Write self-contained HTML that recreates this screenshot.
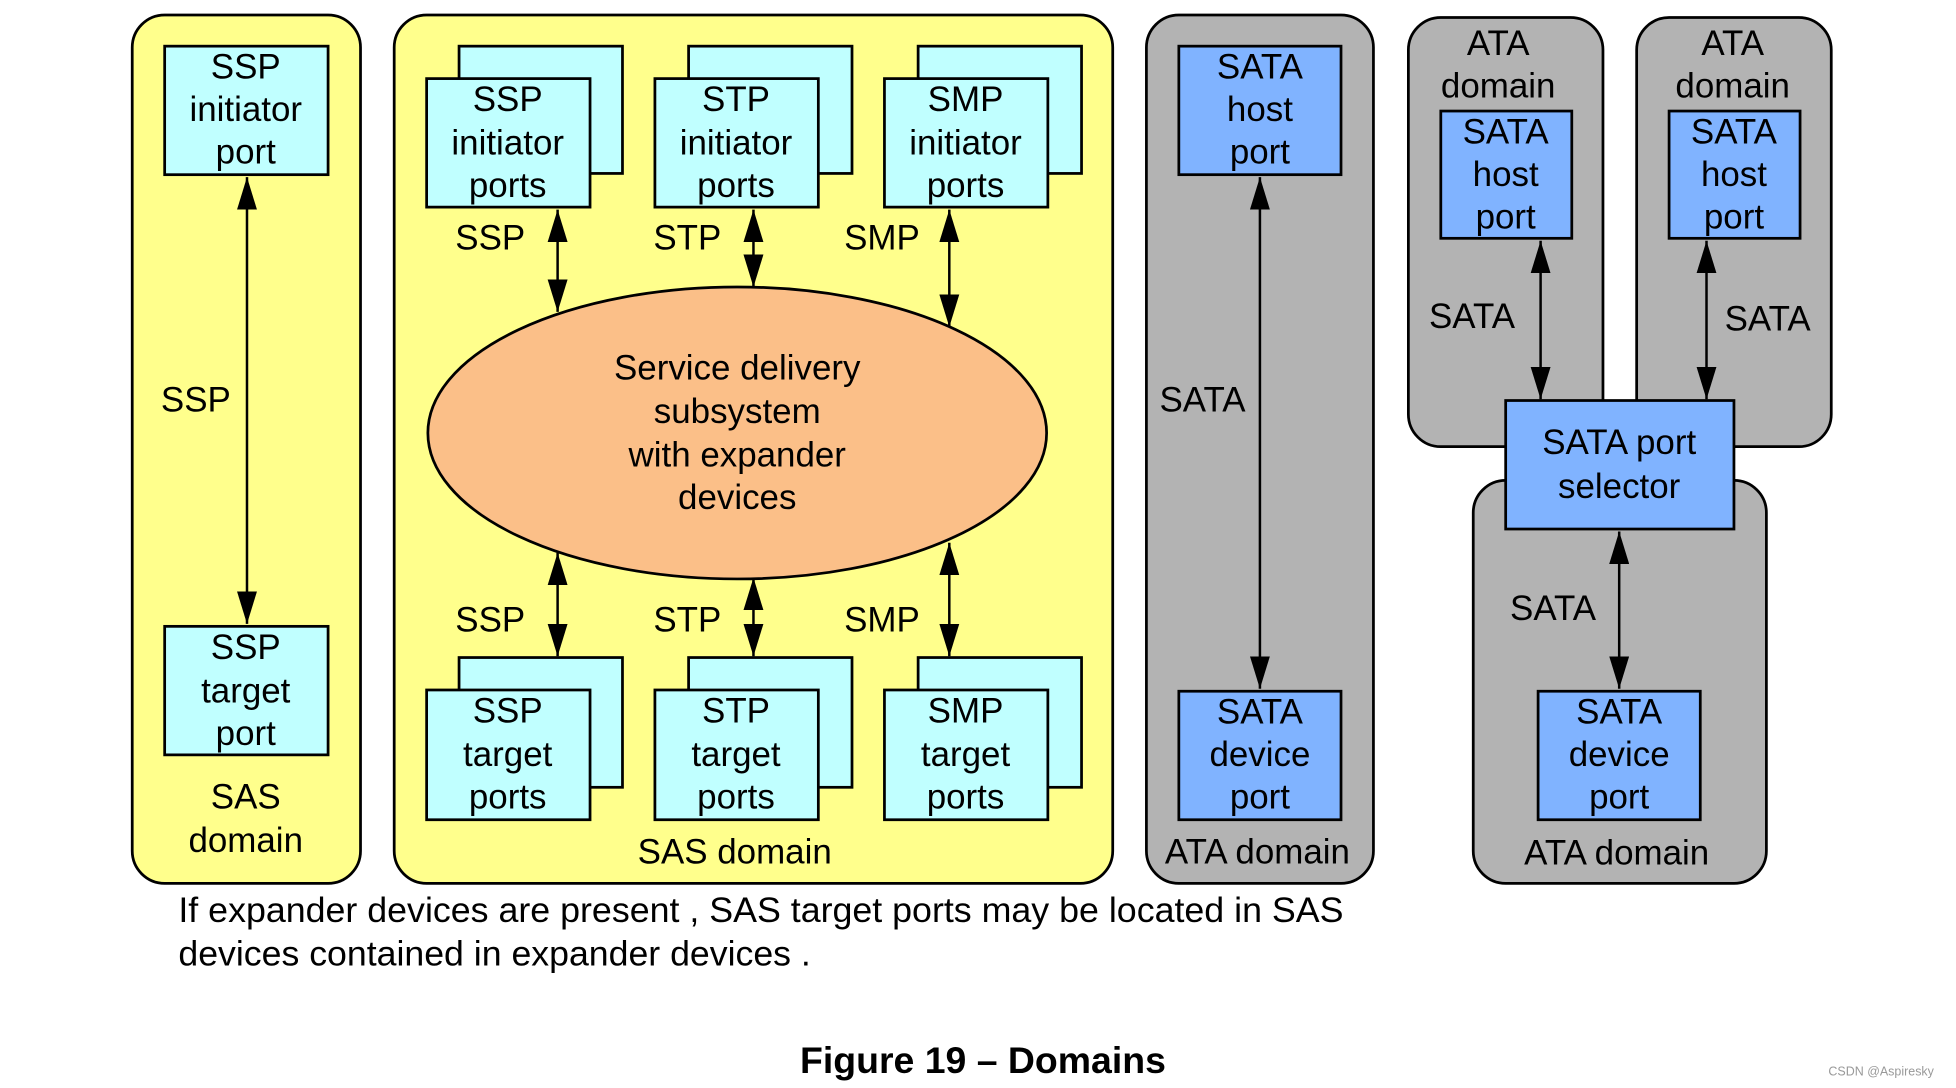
<!DOCTYPE html>
<html><head><meta charset="utf-8"><style>
html,body{margin:0;padding:0;background:#fff;}
svg{display:block;}
text{font-family:"Liberation Sans",Arial,sans-serif;font-size:28px;fill:#000;text-anchor:middle;}
</style></head><body>
<svg width="1956" height="1088" viewBox="0 0 1568 872" preserveAspectRatio="none" xmlns="http://www.w3.org/2000/svg">
<defs>
<marker id="a" markerUnits="userSpaceOnUse" markerWidth="26" markerHeight="16" refX="26" refY="8" viewBox="0 0 26 16" orient="auto-start-reverse">
<path d="M0,0 L26,8 L0,16 Z" fill="#000"/></marker>
</defs>
<g stroke="#000" stroke-width="2.2">
<rect x="106" y="12" width="183" height="696" rx="26" fill="#ffff8c"/>
<rect x="316" y="12" width="576" height="696" rx="26" fill="#ffff8c"/>
<rect x="919" y="12" width="182" height="696" rx="26" fill="#b3b3b3"/>
<rect x="1129" y="14" width="156" height="344" rx="26" fill="#b3b3b3"/>
<rect x="1312" y="14" width="156" height="344" rx="26" fill="#b3b3b3"/>
<rect x="1181" y="385" width="235" height="323" rx="26" fill="#b3b3b3"/>

<rect x="132" y="37" width="131" height="103" fill="#c0ffff"/>
<rect x="132" y="502" width="131" height="103" fill="#c0ffff"/>

<rect x="368" y="37" width="131" height="102" fill="#c0ffff"/>
<rect x="342" y="63" width="131" height="103" fill="#c0ffff"/>
<rect x="552" y="37" width="131" height="102" fill="#c0ffff"/>
<rect x="525" y="63" width="131" height="103" fill="#c0ffff"/>
<rect x="736" y="37" width="131" height="102" fill="#c0ffff"/>
<rect x="709" y="63" width="131" height="103" fill="#c0ffff"/>

<rect x="368" y="527" width="131" height="104" fill="#c0ffff"/>
<rect x="342" y="553" width="131" height="104" fill="#c0ffff"/>
<rect x="552" y="527" width="131" height="104" fill="#c0ffff"/>
<rect x="525" y="553" width="131" height="104" fill="#c0ffff"/>
<rect x="736" y="527" width="131" height="104" fill="#c0ffff"/>
<rect x="709" y="553" width="131" height="104" fill="#c0ffff"/>

<ellipse cx="591" cy="347" rx="248" ry="117" fill="#fbbf88"/>

<rect x="945" y="37" width="130" height="103" fill="#80b3ff"/>
<rect x="945" y="554" width="130" height="103" fill="#80b3ff"/>
<rect x="1155" y="89" width="105" height="102" fill="#80b3ff"/>
<rect x="1338" y="89" width="105" height="102" fill="#80b3ff"/>
<rect x="1207" y="321" width="183" height="103" fill="#80b3ff"/>
<rect x="1233" y="554" width="130" height="103" fill="#80b3ff"/>
</g>
<g stroke="#000" stroke-width="2" marker-start="url(#a)" marker-end="url(#a)">
<line x1="198" y1="142" x2="198" y2="500"/>
<line x1="447" y1="168" x2="447" y2="250"/>
<line x1="604" y1="168" x2="604" y2="230"/>
<line x1="761" y1="168" x2="761" y2="262"/>
<line x1="447" y1="443" x2="447" y2="526"/>
<line x1="604" y1="463" x2="604" y2="526"/>
<line x1="761" y1="435" x2="761" y2="526"/>
<line x1="1010" y1="142" x2="1010" y2="552"/>
<line x1="1235" y1="193" x2="1235" y2="320"/>
<line x1="1368" y1="193" x2="1368" y2="320"/>
<line x1="1298" y1="426" x2="1298" y2="552"/>
</g>
<text x="197" y="63">SSP</text><text x="197" y="97">initiator</text><text x="197" y="131">port</text>
<text x="197" y="528">SSP</text><text x="197" y="563">target</text><text x="197" y="597">port</text>
<text x="157" y="330">SSP</text>
<text x="197" y="648">SAS</text><text x="197" y="683">domain</text>

<text x="407" y="89">SSP</text><text x="407" y="124">initiator</text><text x="407" y="158">ports</text>
<text x="590" y="89">STP</text><text x="590" y="124">initiator</text><text x="590" y="158">ports</text>
<text x="774" y="89">SMP</text><text x="774" y="124">initiator</text><text x="774" y="158">ports</text>
<text x="393" y="200">SSP</text><text x="551" y="200">STP</text><text x="707" y="200">SMP</text>
<text x="591" y="304">Service delivery</text><text x="591" y="339">subsystem</text><text x="591" y="374">with expander</text><text x="591" y="408">devices</text>
<text x="393" y="506">SSP</text><text x="551" y="506">STP</text><text x="707" y="506">SMP</text>
<text x="407" y="579">SSP</text><text x="407" y="614">target</text><text x="407" y="648">ports</text>
<text x="590" y="579">STP</text><text x="590" y="614">target</text><text x="590" y="648">ports</text>
<text x="774" y="579">SMP</text><text x="774" y="614">target</text><text x="774" y="648">ports</text>
<text x="589" y="692">SAS domain</text>

<text x="1010" y="63">SATA</text><text x="1010" y="97">host</text><text x="1010" y="131">port</text>
<text x="964" y="330">SATA</text>
<text x="1010" y="580">SATA</text><text x="1010" y="614">device</text><text x="1010" y="648">port</text>
<text x="1008" y="692">ATA domain</text>

<text x="1201" y="44">ATA</text><text x="1201" y="78">domain</text>
<text x="1389" y="44">ATA</text><text x="1389" y="78">domain</text>
<text x="1207" y="115">SATA</text><text x="1207" y="149">host</text><text x="1207" y="183">port</text>
<text x="1390" y="115">SATA</text><text x="1390" y="149">host</text><text x="1390" y="183">port</text>
<text x="1180" y="263">SATA</text><text x="1417" y="265">SATA</text>
<text x="1298" y="364">SATA port</text><text x="1298" y="399">selector</text>
<text x="1245" y="497">SATA</text>
<text x="1298" y="580">SATA</text><text x="1298" y="614">device</text><text x="1298" y="648">port</text>
<text x="1296" y="693">ATA domain</text>

<text x="143" y="739" style="text-anchor:start" textLength="934" lengthAdjust="spacingAndGlyphs">If expander devices are present , SAS target ports may be located in SAS</text>
<text x="143" y="774" style="text-anchor:start" textLength="507" lengthAdjust="spacingAndGlyphs">devices contained in expander devices .</text>
<text x="788" y="860" style="font-weight:bold;font-size:30px">Figure 19 – Domains</text>
<text x="1508" y="862" style="font-size:10px;fill:#999">CSDN @Aspiresky</text>
</svg>
</body></html>
